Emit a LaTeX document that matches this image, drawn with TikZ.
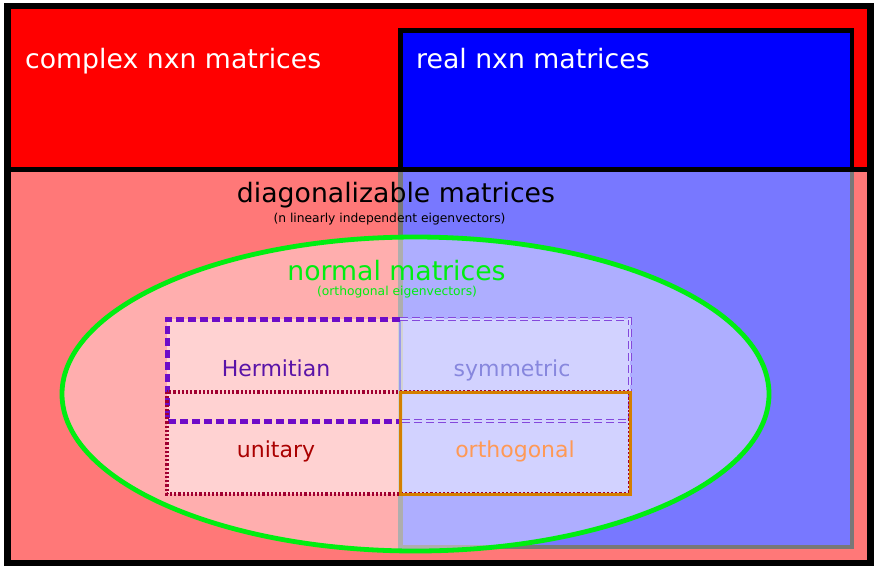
\documentclass[tikz,border=0pt]{standalone}
\usepackage{fontspec}
\setmainfont{DejaVu Sans}
\definecolor{ellgreen}{HTML}{00EE11}
\definecolor{hermc}{HTML}{6E0CC8}
\definecolor{hermtext}{HTML}{5A14A8}
\definecolor{symmc}{HTML}{8448DC}
\definecolor{symmin}{HTML}{D5D5FF}
\definecolor{symmtext}{HTML}{8787DE}
\definecolor{unitc}{HTML}{A00030}
\definecolor{unittext}{HTML}{AA0000}
\definecolor{orthc}{HTML}{D47F00}
\definecolor{orthtext}{HTML}{FF9955}
\definecolor{realedge}{HTML}{9999EE}
\begin{document}
\begin{tikzpicture}[x=1pt,y=-1pt,
  bigtext/.style={inner sep=0pt,font=\fontsize{26.7}{30}\selectfont},
  smalltext/.style={inner sep=0pt,font=\fontsize{12.3}{14}\selectfont},
  boxtext/.style={inner sep=0pt,font=\fontsize{22}{26}\selectfont,anchor=base},
  hermline/.style={draw=hermc,line width=5pt,dash pattern=on 8pt off 4pt},
  symmline/.style={draw=symmc,line width=4.8pt,dash pattern=on 8pt off 4pt},
  symmmid/.style={draw=symmin,line width=1.8pt,dash pattern=on 8pt off 4pt},
  unitline/.style={draw=unitc,line width=3.4pt,dash pattern=on 2.2pt off 2pt},
  orthline/.style={draw=orthc,line width=3pt}]
\useasboundingbox (0,0) rectangle (877,566);
% complex matrices
\fill[red] (7.5,6) rectangle (870.5,563);
% real matrices
\draw[line width=4.5pt,fill=blue] (400.3,30.3) rectangle (852,547);
% diagonalizable overlay
\fill[white,opacity=0.47] (7.5,169.5) rectangle (870.5,563);
\draw[line width=5.5pt] (7.5,169.5) -- (870.5,169.5);
% normal matrices
\draw[line width=4.8pt,draw=ellgreen,fill=white,fill opacity=0.4] (415.5,394) ellipse [x radius=353.5pt,y radius=157pt];
% box fills
\fill[white,opacity=0.45] (167,319) rectangle (630,494);
% real edge inside boxes
\draw[realedge,line width=2pt] (400,319) -- (400,392);
% Hermitian
\draw[hermline] (400,319) -- (167,319) -- (167,421) -- (400,421);
% symmetric
\draw[symmline] (400,319) -- (630,319) -- (630,421) -- (400,421);
\draw[symmmid] (400,319) -- (630,319) -- (630,421) -- (400,421);
% unitary
\draw[unitline] (167,392) rectangle (630,494);
% orthogonal
\draw[orthline] (400,392) rectangle (630,494);
% outer border
\draw[line width=6.5pt] (7.5,6) rectangle (870.5,563);
% texts
\node[bigtext,white,anchor=base west] (complex) at (25,68) {complex nxn matrices};
\node[bigtext,white,anchor=base west] (real) at (416,68) {real nxn matrices};
\node[bigtext,black,anchor=base] (diag) at (396,202) {diagonalizable matrices};
\node[smalltext,black,anchor=base] (diagsub) at (389.5,222) {(n linearly independent eigenvectors)};
\node[bigtext,ellgreen,anchor=base] (normal) at (396.5,280) {normal matrices};
\node[smalltext,ellgreen,anchor=base] (normalsub) at (397,295) {(orthogonal eigenvectors)};
\node[boxtext,hermtext] (herm) at (276,376) {Hermitian};
\node[boxtext,symmtext] (symm) at (512,376) {symmetric};
\node[boxtext,unittext] (unit) at (276,457) {unitary};
\node[boxtext,orthtext] (orth) at (515,457) {orthogonal};
\end{tikzpicture}
\end{document}
